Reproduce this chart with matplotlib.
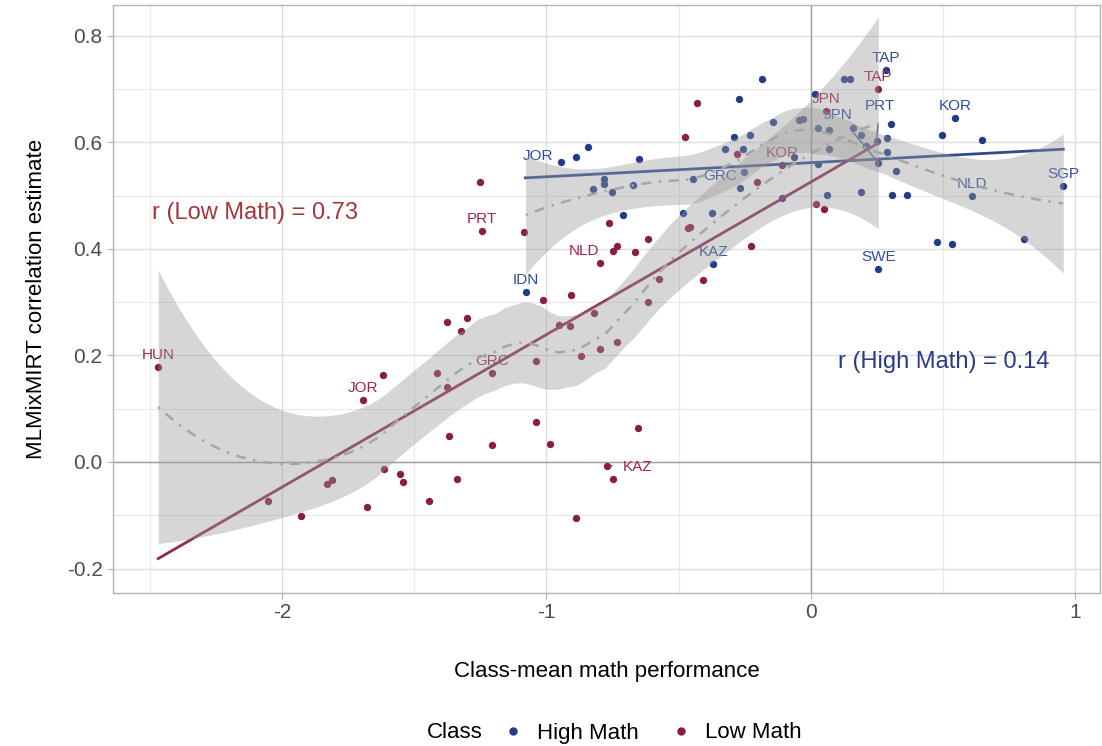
import numpy as np
import matplotlib
matplotlib.use("Agg")
import matplotlib.pyplot as plt
from matplotlib.lines import Line2D

plt.rcParams['font.family'] = ['Liberation Sans', 'DejaVu Sans']

# class-mean math performance (x) and correlation estimate (y)
high_x = [-1.079, -0.946, -0.887, -0.843, -0.825, -0.783, -0.783, -0.754, -0.712, -0.673,
          -0.650, -0.484, -0.445, -0.373, -0.369, -0.324, -0.292, -0.273, -0.270, -0.257,
          -0.253, -0.231, -0.186, -0.144, -0.109, -0.063, -0.047, -0.031, 0.016, 0.028,
          0.028, 0.062, 0.068, 0.068, 0.126, 0.147, 0.160, 0.189, 0.190, 0.208,
          0.248, 0.255, 0.255, 0.282, 0.288, 0.288, 0.304, 0.305, 0.321, 0.364,
          0.475, 0.497, 0.532, 0.546, 0.608, 0.645, 0.806, 0.954]
high_y = [0.320, 0.564, 0.572, 0.591, 0.512, 0.531, 0.521, 0.506, 0.464, 0.520,
          0.569, 0.468, 0.531, 0.468, 0.372, 0.588, 0.610, 0.682, 0.514, 0.588,
          0.545, 0.613, 0.720, 0.638, 0.495, 0.573, 0.642, 0.644, 0.691, 0.628,
          0.560, 0.502, 0.623, 0.588, 0.720, 0.720, 0.627, 0.506, 0.613, 0.593,
          0.602, 0.562, 0.363, 0.736, 0.609, 0.582, 0.635, 0.501, 0.547, 0.501,
          0.413, 0.613, 0.410, 0.645, 0.500, 0.605, 0.418, 0.519]
high_lab = {0: "IDN", 1: "JOR", 12: "GRC", 14: "KAZ", 40: "PRT", 41: "JPN",
            42: "SWE", 43: "TAP", 53: "KOR", 54: "NLD", 57: "SGP"}

low_x = [-2.468, -2.054, -1.929, -1.831, -1.812, -1.692, -1.679, -1.619, -1.613, -1.554,
         -1.544, -1.443, -1.415, -1.377, -1.375, -1.367, -1.340, -1.323, -1.299, -1.251,
         -1.245, -1.207, -1.207, -1.085, -1.041, -1.041, -1.013, -0.986, -0.951, -0.911,
         -0.909, -0.887, -0.870, -0.820, -0.799, -0.799, -0.771, -0.765, -0.750, -0.749,
         -0.732, -0.732, -0.667, -0.655, -0.617, -0.616, -0.574, -0.475, -0.466, -0.457,
         -0.430, -0.407, -0.281, -0.226, -0.203, -0.109, 0.021, 0.050, 0.056, 0.255]
low_y = [0.179, -0.073, -0.101, -0.042, -0.034, 0.116, -0.084, 0.163, -0.013, -0.023,
         -0.037, -0.073, 0.167, 0.262, 0.141, 0.048, -0.032, 0.246, 0.270, 0.525,
         0.434, 0.167, 0.032, 0.432, 0.190, 0.075, 0.304, 0.034, 0.258, 0.256,
         0.314, -0.105, 0.199, 0.279, 0.213, 0.374, -0.007, 0.448, 0.397, -0.032,
         0.406, 0.226, 0.394, 0.064, 0.418, 0.300, 0.344, 0.611, 0.439, 0.441,
         0.674, 0.342, 0.578, 0.405, 0.525, 0.557, 0.485, 0.475, 0.659, 0.700]
low_lab = {0: "HUN", 5: "JOR", 20: "PRT", 21: "GRC", 35: "NLD", 36: "KAZ",
           55: "KOR", 58: "JPN", 59: "TAP"}

r_low = 0.73
r_high = 0.14

HIGH_COL = "#203C89"
LOW_COL = "#8A1C45"

# label offsets in pixels (dx, dy), default is straight above
high_off = {1: (-23, 6), 12: (27, 3), 40: (3, 35), 41: (-40, 48)}
low_off = {35: (-16, 12), 36: (31, -1)}


def loess(x, y, grid, span=0.75, degree=2):
    x = np.asarray(x)
    y = np.asarray(y)
    n = len(x)
    q = int(np.floor(span * n))

    def lvec(x0):
        d = np.abs(x - x0)
        h = np.sort(d)[q - 1]
        w = np.clip(1 - (d / h) ** 3, 0, None) ** 3
        X = np.vander(x - x0, degree + 1, increasing=True)
        A = X.T @ (w[:, None] * X)
        return np.linalg.solve(A, X.T * w)[0]

    L = np.array([lvec(xi) for xi in x])
    R = np.eye(n) - L
    d1 = np.trace(R.T @ R)
    resid = y - L @ y
    sigma = np.sqrt(np.sum(resid ** 2) / d1)
    fit = []
    se = []
    for g in grid:
        l = lvec(g)
        fit.append(l @ y)
        se.append(sigma * np.sqrt(np.sum(l ** 2)))
    return np.array(fit), np.array(se)


fig = plt.figure(figsize=(11.02, 7.46), dpi=100)
ax = fig.add_axes([113 / 1102, 1 - 593 / 746, 987 / 1102, 588 / 746])

ax.set_xlim(-2.639, 1.093)
ax.set_ylim(-0.246, 0.858)
ax.set_xticks([-2, -1, 0, 1])
ax.set_xticklabels(["-2", "-1", "0", "1"])
ax.set_yticks([-0.2, 0.0, 0.2, 0.4, 0.6, 0.8])
ax.set_yticklabels(["-0.2", "0.0", "0.2", "0.4", "0.6", "0.8"])
ax.set_xticks([-2.5, -1.5, -0.5, 0.5], minor=True)
ax.set_yticks([-0.1, 0.1, 0.3, 0.5, 0.7], minor=True)
ax.grid(which="major", color="#DEDEDE", lw=1.0, zorder=0)
ax.grid(which="minor", color="#E8E8E8", lw=0.8, zorder=0)
ax.set_axisbelow(True)
for s in ax.spines.values():
    s.set_color("#B3B3B3")
    s.set_linewidth(1.0)
ax.tick_params(which="major", colors="#B3B3B3", length=4, labelcolor="#4D4D4D", labelsize=15)
ax.tick_params(which="minor", length=0)
ax.axhline(0, color="#9E9E9E", lw=1.0, zorder=1)
ax.axvline(0, color="#9E9E9E", lw=1.0, zorder=1)

# points and country labels
ax.scatter(high_x, high_y, s=28, color=HIGH_COL, zorder=2, linewidths=0)
ax.scatter(low_x, low_y, s=28, color=LOW_COL, zorder=2, linewidths=0)

for labs, offs, xs, ys, col in [(high_lab, high_off, high_x, high_y, "#2F4C9C"),
                                 (low_lab, low_off, low_x, low_y, "#9C2552")]:
    for i, name in labs.items():
        dx, dy = offs.get(i, (0, 12))
        far = abs(dx) > 30 or dy > 30
        ax.annotate(name, (xs[i], ys[i]), xytext=(dx, dy), textcoords="offset pixels",
                    ha="center", va="center", fontsize=11, color=col, zorder=3,
                    arrowprops=dict(arrowstyle="-", color=col, lw=1.0, shrinkA=6, shrinkB=2)
                    if far else None)

# linear fits
for xs, ys, col in [(high_x, high_y, "#2E4A91"), (low_x, low_y, "#8E2A52")]:
    b, a = np.polyfit(xs, ys, 1)
    gx = np.array([min(xs), max(xs)])
    ax.plot(gx, a + b * gx, color=col, lw=2.0, zorder=4)

# loess smooths with bands
for xs, ys in [(high_x, high_y), (low_x, low_y)]:
    xs = np.array(xs)
    ys = np.array(ys)
    grid = np.linspace(xs.min(), xs.max(), 80)
    fit, se = loess(xs, ys, grid)
    ax.fill_between(grid, fit - 2.0 * se, fit + 2.0 * se, color="#999999", alpha=0.4,
                    lw=0, zorder=5)
    ax.plot(grid, fit, color="#A6A6A6", lw=1.8, dashes=(1, 3, 4, 3), zorder=6)

ax.text(-2.102, 0.468, "r (Low Math) = %.2f" % r_low, color="#A3363A", fontsize=17,
        ha="center", va="center", zorder=7)
ax.text(0.503, 0.188, "r (High Math) = %.2f" % r_high, color="#2C3A8E", fontsize=17,
        ha="center", va="center", zorder=7)

ax.set_xlabel("Class-mean math performance", fontsize=16, color="black", labelpad=28)
ax.set_ylabel("MLMixMIRT correlation estimate", fontsize=16, color="black", labelpad=14)

# legend along the bottom
fig.text(427 / 1102, 1 - 733 / 746, "Class", fontsize=16, ha="left", va="center")
handles = [Line2D([], [], ls="none", marker="o", ms=5, color=HIGH_COL),
           Line2D([], [], ls="none", marker="o", ms=5, color=LOW_COL)]
fig.legend(handles, ["High Math", "Low Math"], loc="center left",
           bbox_to_anchor=(497 / 1102, 1 - 733 / 746), ncol=2, frameon=False,
           fontsize=16, handlelength=1.0, handletextpad=0.6, columnspacing=1.4,
           borderpad=0.2, borderaxespad=0)

fig.savefig("out.png", dpi=100)
